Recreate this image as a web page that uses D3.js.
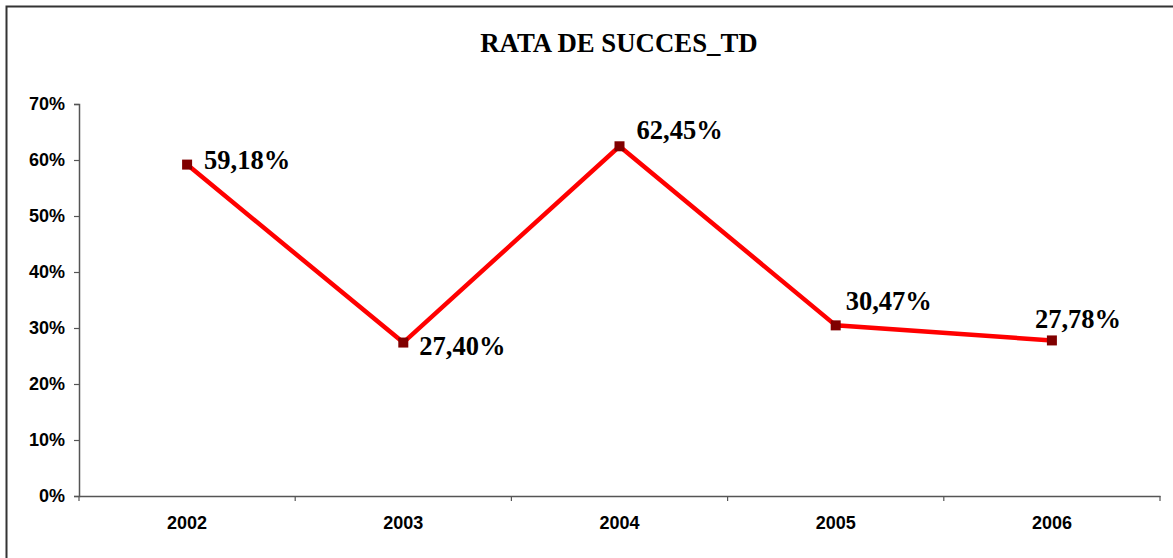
<!DOCTYPE html>
<html>
<head>
<meta charset="utf-8">
<script src="https://cdn.jsdelivr.net/npm/d3@7"></script>
<style>
  html, body { margin: 0; padding: 0; background: #fff; }
  svg { display: block; }
</style>
</head>
<body>
<svg id="chart" width="1173" height="558"></svg>
<script>
const title = "RATA DE SUCCES_TD";
const categories = ["2002", "2003", "2004", "2005", "2006"];
const values = [59.18, 27.40, 62.45, 30.47, 27.78];
const valueLabels = ["59,18%", "27,40%", "62,45%", "30,47%", "27,78%"];
const yTicks = [0, 10, 20, 30, 40, 50, 60, 70];

// label placement offsets relative to marker (layout, not data)
const labelOffsets = [[17, 4], [16, 12], [17, -7], [10, -15], [-17, -12]];

const svg = d3.select("#chart");
const W = 1173, H = 558;
const m = { left: 79, right: 13, top: 104, bottom: 62 };

// outer frame
svg.append("rect")
  .attr("x", 6.5).attr("y", 6.5)
  .attr("width", W + 10).attr("height", H + 10)
  .attr("fill", "none").attr("stroke", "#333").attr("stroke-width", 2);

const x = d3.scaleBand().domain(categories).range([m.left, W - m.right]).padding(0);
const y = d3.scaleLinear().domain([0, 70]).range([H - m.bottom, m.top]);

svg.append("text")
  .attr("x", 619).attr("y", 52)
  .attr("text-anchor", "middle")
  .attr("font-family", "'Liberation Serif', 'Times New Roman', serif")
  .attr("font-weight", "bold")
  .attr("font-size", 26.8)
  .attr("fill", "#000")
  .text(title);

// Y axis
const yAxis = svg.append("g")
  .attr("transform", `translate(${m.left},0)`)
  .call(d3.axisLeft(y).tickValues(yTicks).tickFormat(d => d + "%").tickSize(5).tickPadding(9));
yAxis.select(".domain").attr("stroke", "#555").attr("stroke-width", 1.5);
yAxis.selectAll(".tick line").attr("stroke", "#555").attr("stroke-width", 1.2);
yAxis.selectAll(".tick text")
  .attr("font-family", "'Liberation Sans', Arial, sans-serif")
  .attr("font-weight", "bold").attr("font-size", 18).attr("fill", "#000");

// X axis
const xAxis = svg.append("g")
  .attr("transform", `translate(0,${H - m.bottom})`)
  .call(d3.axisBottom(x).tickSize(0).tickPadding(20));
xAxis.select(".domain").attr("stroke", "#555").attr("stroke-width", 1.5);
xAxis.selectAll(".tick text")
  .attr("font-family", "'Liberation Sans', Arial, sans-serif")
  .attr("font-weight", "bold").attr("font-size", 18).attr("fill", "#000");
// category boundary ticks
const bounds = categories.map(c => x(c)).concat([x(categories[categories.length - 1]) + x.bandwidth()]);
svg.append("g").selectAll("line").data(bounds).join("line")
  .attr("x1", d => d).attr("x2", d => d)
  .attr("y1", H - m.bottom).attr("y2", H - m.bottom + 5)
  .attr("stroke", "#555").attr("stroke-width", 1.2);

const cx = c => x(c) + x.bandwidth() / 2;
const pts = categories.map((c, i) => ({ c, v: values[i], label: valueLabels[i], off: labelOffsets[i] }));

svg.append("path")
  .datum(pts)
  .attr("fill", "none").attr("stroke", "#ff0000").attr("stroke-width", 4.5)
  .attr("stroke-linejoin", "miter")
  .attr("d", d3.line().x(d => cx(d.c)).y(d => y(d.v)));

svg.append("g").selectAll("rect").data(pts).join("rect")
  .attr("x", d => cx(d.c) - 5).attr("y", d => y(d.v) - 5)
  .attr("width", 10).attr("height", 10)
  .attr("fill", "#800000");

svg.append("g").selectAll("text").data(pts).join("text")
  .attr("x", d => cx(d.c) + d.off[0]).attr("y", d => y(d.v) + d.off[1])
  .attr("font-family", "'Liberation Serif', 'Times New Roman', serif")
  .attr("font-weight", "bold").attr("font-size", 26.5).attr("fill", "#000")
  .text(d => d.label);
</script>
</body>
</html>
